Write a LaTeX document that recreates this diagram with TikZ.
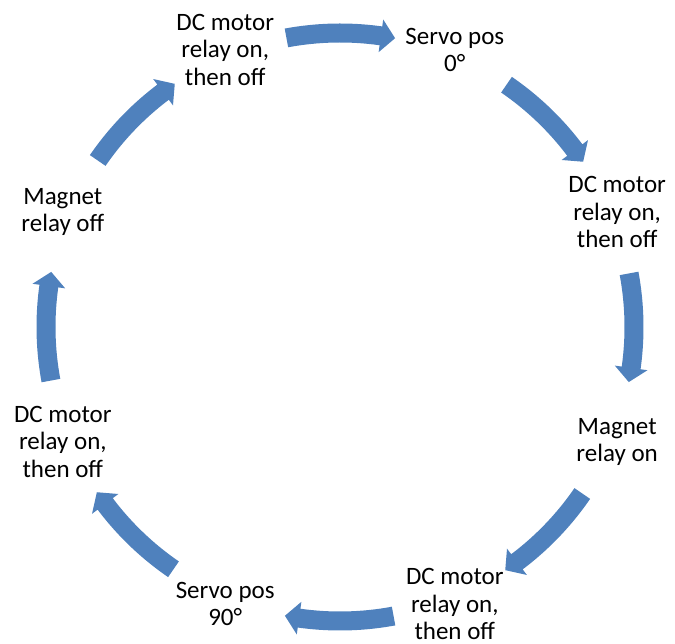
\documentclass[tikz,border=0pt]{standalone}
\usepackage{fontspec}
\setmainfont{Carlito}
\usetikzlibrary{calc}
\definecolor{cycblue}{RGB}{79,129,189}

\begin{document}
\begin{tikzpicture}[x=1pt,y=1pt,
  lbl/.style={align=center,font=\fontsize{25}{27.5}\selectfont,inner sep=0pt}]
\useasboundingbox (0,0) rectangle (675,644);
\coordinate (O) at (340,317);
% steps round the cycle
\foreach \a/\t [count=\i] in {67.5/{Servo pos\\0°},
    22.5/{DC motor\\relay on,\\then off},
    -22.5/{Magnet\\relay on},
    -67.5/{DC motor\\relay on,\\then off},
    -112.5/{Servo pos\\90°},
    -157.5/{DC motor\\relay on,\\then off},
    157.5/{Magnet\\relay off},
    112.5/{DC motor\\relay on,\\then off}}
  \node[lbl] (s\i) at ($(O)+(\a:300)$) {\t};
% curved block arrows between the steps
\foreach \m in {90,45,...,-225}
  \fill[cycblue] ($(O)+(\m+10.5:303.5)$) arc[start angle=\m+10.5,end angle=\m-8,radius=303.5]
    -- ($(O)+(\m-8:310.5)$) -- ($(O)+(\m-10.8:294)$) -- ($(O)+(\m-8:277.5)$)
    -- ($(O)+(\m-8:284.5)$) arc[start angle=\m-8,end angle=\m+10.5,radius=284.5] -- cycle;
\end{tikzpicture}
\end{document}
